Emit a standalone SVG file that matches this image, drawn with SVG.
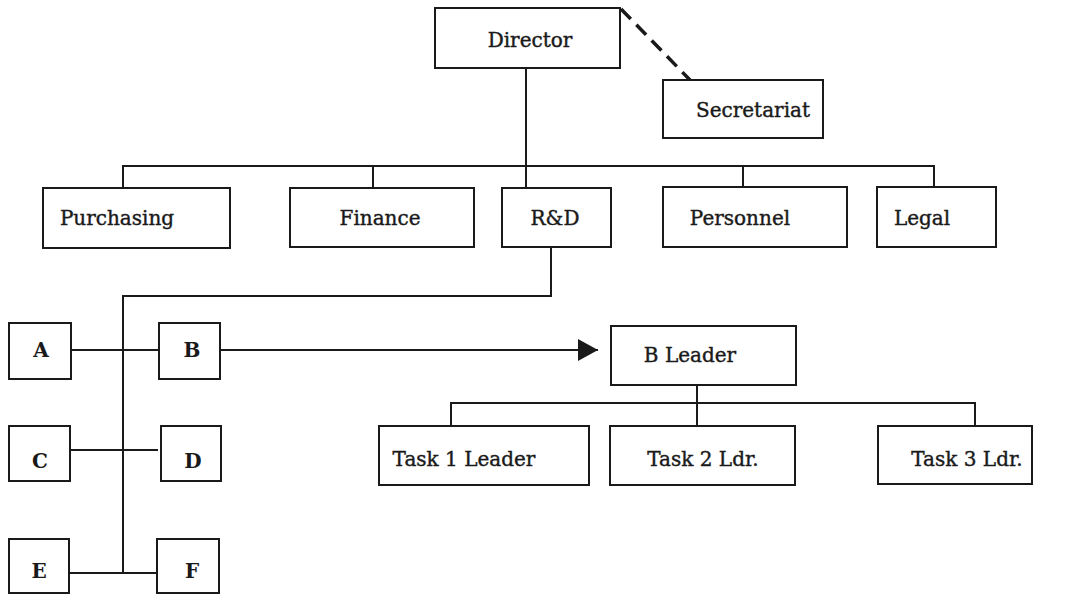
<svg xmlns="http://www.w3.org/2000/svg" width="1072" height="595" viewBox="0 0 1072 595">
  <defs>
    <style>
      .box { fill: #ffffff; stroke: #1a1a1a; stroke-width: 2; }
      .lbl { font-family: "DejaVu Serif", "Liberation Serif", serif; font-size: 20px; fill: #1a1a1a; stroke: #1a1a1a; stroke-width: 0.4; text-anchor: middle; }
      .ltr { font-family: "DejaVu Serif", "Liberation Serif", serif; font-size: 20px; font-weight: bold; fill: #1a1a1a; text-anchor: middle; }
      .wire { fill: none; stroke: #1a1a1a; stroke-width: 2; }
      .dash { fill: none; stroke: #1a1a1a; stroke-width: 3.5; stroke-dasharray: 14 8; }
    </style>
    <marker id="arrow" viewBox="0 0 20 22" refX="20" refY="11" markerWidth="20" markerHeight="22" markerUnits="userSpaceOnUse" orient="auto">
      <path d="M0,0 L20,11 L0,22 Z" fill="#1a1a1a"/>
    </marker>
  </defs>
  <rect width="1072" height="595" fill="#ffffff"/>

  <g id="connectors">
    <!-- Director to Secretariat (staff link) -->
    <path class="dash" d="M621,9 L690,80"/>
    <!-- Director down to department bar -->
    <path class="wire" d="M526,68 V188"/>
    <path class="wire" d="M123,188 V166 H934 V187"/>
    <path class="wire" d="M373,166 V188"/>
    <path class="wire" d="M743,166 V187"/>
    <!-- R&D down to the project trunk -->
    <path class="wire" d="M551,247 V296 H123 V573"/>
    <path class="wire" d="M71,350 H159"/>
    <path class="wire" d="M70,450 H158"/>
    <path class="wire" d="M69,573 H157"/>
    <!-- B to its leader -->
    <path class="wire" d="M220,350 H598" stroke-width="2.5" marker-end="url(#arrow)"/>
    <!-- B Leader to task leaders -->
    <path class="wire" d="M697,385 V426"/>
    <path class="wire" d="M451,426 V403 H975 V426"/>
  </g>

  <g id="director"><rect class="box" x="435" y="8" width="185" height="60"/><text class="lbl" x="530" y="47">Director</text></g>
  <g id="secretariat"><rect class="box" x="663" y="80" width="160" height="58"/><text class="lbl" x="753" y="117">Secretariat</text></g>

  <g id="purchasing"><rect class="box" x="43" y="188" width="187" height="60"/><text class="lbl" x="117" y="225">Purchasing</text></g>
  <g id="finance"><rect class="box" x="290" y="188" width="184" height="59"/><text class="lbl" x="380" y="225">Finance</text></g>
  <g id="rnd"><rect class="box" x="502" y="188" width="109" height="59"/><text class="lbl" x="555" y="225">R&amp;D</text></g>
  <g id="personnel"><rect class="box" x="663" y="187" width="184" height="60"/><text class="lbl" x="740" y="225">Personnel</text></g>
  <g id="legal"><rect class="box" x="877" y="187" width="119" height="60"/><text class="lbl" x="922" y="225">Legal</text></g>

  <g id="a"><rect class="box" x="9" y="323" width="62" height="56"/><text class="ltr" x="41" y="357">A</text></g>
  <g id="b"><rect class="box" x="159" y="323" width="61" height="56"/><text class="ltr" x="192" y="357">B</text></g>
  <g id="c"><rect class="box" x="9" y="426" width="61" height="55"/><text class="ltr" x="40" y="468">C</text></g>
  <g id="d"><rect class="box" x="161" y="426" width="60" height="55"/><text class="ltr" x="193" y="468">D</text></g>
  <g id="e"><rect class="box" x="9" y="539" width="60" height="54"/><text class="ltr" x="39" y="578">E</text></g>
  <g id="f"><rect class="box" x="157" y="539" width="62" height="54"/><text class="ltr" x="192" y="578">F</text></g>

  <g id="b-leader"><rect class="box" x="611" y="326" width="185" height="59"/><text class="lbl" x="690" y="362">B Leader</text></g>
  <g id="task1"><rect class="box" x="379" y="426" width="210" height="59"/><text class="lbl" x="464" y="466">Task 1 Leader</text></g>
  <g id="task2"><rect class="box" x="610" y="426" width="185" height="59"/><text class="lbl" x="703" y="466">Task 2 Ldr.</text></g>
  <g id="task3"><rect class="box" x="878" y="426" width="154" height="58"/><text class="lbl" x="967" y="466">Task 3 Ldr.</text></g>
</svg>
